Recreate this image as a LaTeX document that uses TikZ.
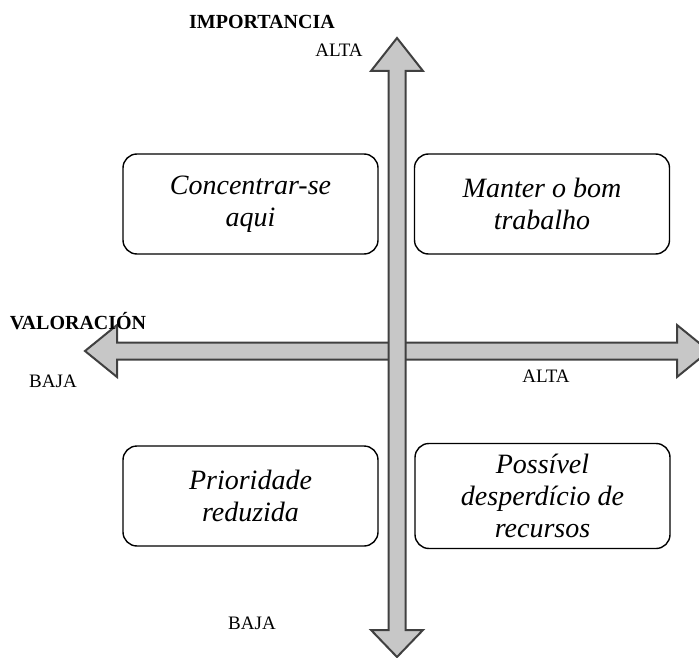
\documentclass[tikz,border=0pt]{standalone}
\usepackage{fontspec}
\setmainfont{Liberation Serif}
\usepackage{tikz}

\tikzset{
  axisarrow/.style={draw=black!75, line width=2pt, fill=black!22, line join=miter},
  quadbox/.style={draw, line width=1.4pt, rounded corners=14pt, minimum width=255pt,
    minimum height=100pt, align=center, inner sep=0pt,
    font=\fontsize{28}{32}\selectfont\itshape},
  axistitle/.style={anchor=base, inner sep=0pt, font=\fontsize{20}{22}\selectfont\bfseries},
  axislabel/.style={anchor=base, inner sep=0pt, font=\fontsize{19}{22}\selectfont}
}

\begin{document}
\begin{tikzpicture}[x=1pt, y=-1pt]
    \useasboundingbox (0,0) rectangle (699,658);
    \clip (0,0) rectangle (699,658);
    % horizontal axis (valoracion)
    \draw[axisarrow] (85,351) -- (117,325) -- (117,342.5) -- (677,342.5) -- (677,325)
        -- (709,351) -- (677,377) -- (677,359.5) -- (117,359.5) -- (117,377) -- cycle;
    % vertical axis (importancia)
    \draw[axisarrow] (397,38) -- (423,71) -- (405.5,71) -- (405.5,630) -- (423,630)
        -- (397,657) -- (371,630) -- (388.5,630) -- (388.5,71) -- (371,71) -- cycle;

    \node[quadbox] (focus) at (250.5,204) {Concentrar-se\\aqui};
    \node[quadbox] (keep) at (542,204) {Manter o bom\\trabalho};
    \node[quadbox] (lowprio) at (250.5,496) {Prioridade\\reduzida};
    \node[quadbox, minimum height=105pt] (waste) at (542.5,496) {Possível\\desperdício de\\recursos};

    \node[axistitle] (importancia) at (262,29) {IMPORTANCIA};
    \node[axislabel] (altaimp) at (339,57) {ALTA};
    \node[axislabel] (bajaimp) at (252,629) {BAJA};
    \node[axistitle] (valoracion) at (78,329) {VALORACIÓN};
    \node[axislabel] (bajaval) at (53,387) {BAJA};
    \node[axislabel] (altaval) at (546,382) {ALTA};
\end{tikzpicture}
\end{document}
